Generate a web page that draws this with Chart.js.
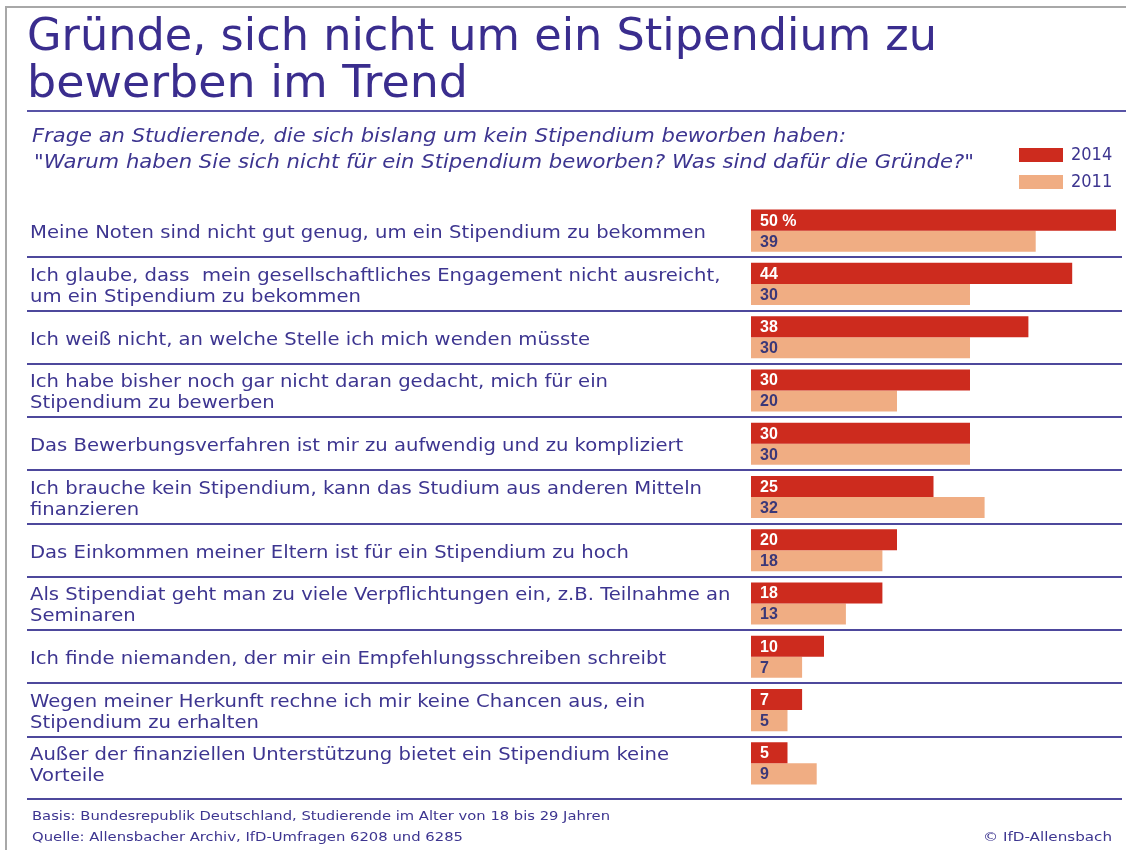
<!DOCTYPE html>
<html><head><meta charset="utf-8">
<script src="https://cdn.jsdelivr.net/npm/chart.js@4.4.1/dist/chart.umd.min.js"></script>
<style>
html,body{margin:0;padding:0;background:#fff;}
#wrap{position:relative;width:1126px;height:850px;overflow:hidden;background:#fff;}
#c{position:absolute;left:0;top:0;}
.t{position:absolute;white-space:nowrap;transform-origin:0 0;color:#3b2f8f;line-height:1;}
.title{font-family:'DejaVu Sans';font-size:44px;color:#3a2d8e;}
.sub{font-family:'DejaVu Sans';font-style:italic;font-size:19px;color:#3d3590;}
.foot{font-family:'DejaVu Sans';font-size:13px;color:#3d3590;}
</style></head><body>
<div id="wrap">
<canvas id="c" width="1126" height="850"></canvas>
<div class="t title fit" data-w="910" style="left:27px;top:13px;">Gründe, sich nicht um ein Stipendium zu</div>
<div class="t title fit" data-w="441" style="left:27px;top:60px;">bewerben im Trend</div>
<div class="t sub fit" data-w="814" style="left:32px;top:126px;">Frage an Studierende, die sich bislang um kein Stipendium beworben haben:</div>
<div class="t sub fit" data-w="940" style="left:34px;top:152px;">"Warum haben Sie sich nicht für ein Stipendium beworben? Was sind dafür die Gründe?"</div>
<div class="t foot fit" data-w="578" style="left:32px;top:809px;">Basis: Bundesrepublik Deutschland, Studierende im Alter von 18 bis 29 Jahren</div>
<div class="t foot fit" data-w="431" style="left:32px;top:830px;">Quelle: Allensbacher Archiv, IfD-Umfragen 6208 und 6285</div>
<div class="t foot fit" data-w="129" style="left:983px;top:830px;">© IfD-Allensbach</div>
</div>
<script>
const categories = [
  "Meine Noten sind nicht gut genug, um ein Stipendium zu bekommen",
  ["Ich glaube, dass  mein gesellschaftliches Engagement nicht ausreicht,", "um ein Stipendium zu bekommen"],
  "Ich weiß nicht, an welche Stelle ich mich wenden müsste",
  ["Ich habe bisher noch gar nicht daran gedacht, mich für ein", "Stipendium zu bewerben"],
  "Das Bewerbungsverfahren ist mir zu aufwendig und zu kompliziert",
  ["Ich brauche kein Stipendium, kann das Studium aus anderen Mitteln", "finanzieren"],
  "Das Einkommen meiner Eltern ist für ein Stipendium zu hoch",
  ["Als Stipendiat geht man zu viele Verpflichtungen ein, z.B. Teilnahme an", "Seminaren"],
  "Ich finde niemanden, der mir ein Empfehlungsschreiben schreibt",
  ["Wegen meiner Herkunft rechne ich mir keine Chancen aus, ein", "Stipendium zu erhalten"],
  ["Außer der finanziellen Unterstützung bietet ein Stipendium keine", "Vorteile"]
];
const series2014 = [50, 44, 38, 30, 30, 25, 20, 18, 10, 7, 5];
const series2011 = [39, 30, 30, 20, 30, 32, 18, 13, 7, 5, 9];
const seriesNames = ["2014", "2011"];

// fit HTML text widths
document.querySelectorAll('.fit').forEach(el => {
  const w = el.getBoundingClientRect().width;
  const target = parseFloat(el.dataset.w);
  el.style.transform = 'scaleX(' + (target / w) + ')';
});

const TEXT = '#3d3590';
const RULE = '#4d489c';

const decor = {
  id: 'decor',
  beforeDraw(chart) {
    const ctx = chart.ctx;
    ctx.save();
    ctx.fillStyle = '#fff';
    ctx.fillRect(0, 0, chart.width, chart.height);
    // frame
    ctx.strokeStyle = '#a8a8a8';
    ctx.lineWidth = 2;
    ctx.beginPath();
    ctx.moveTo(6, 850); ctx.lineTo(6, 7); ctx.lineTo(1126, 7);
    ctx.stroke();
    // title rule
    ctx.strokeStyle = '#5853a6';
    ctx.lineWidth = 2;
    ctx.beginPath(); ctx.moveTo(27, 111); ctx.lineTo(1126, 111); ctx.stroke();
    // row separators
    const ys = chart.scales.y;
    ctx.strokeStyle = RULE;
    for (let i = 0; i < categories.length - 1; i++) {
      const y = Math.round((ys.getPixelForValue(i) + ys.getPixelForValue(i + 1)) / 2);
      ctx.beginPath(); ctx.moveTo(27, y); ctx.lineTo(1122, y); ctx.stroke();
    }
    ctx.beginPath(); ctx.moveTo(27, 799); ctx.lineTo(1122, 799); ctx.stroke();
    // row labels
    ctx.fillStyle = TEXT;
    ctx.font = '17px "DejaVu Sans"';
    ctx.textBaseline = 'middle';
    ctx.textAlign = 'left';
    const w0 = ctx.measureText(categories[0]).width;
    const sx = 676 / w0;
    categories.forEach((lab, i) => {
      const lines = Array.isArray(lab) ? lab : [lab];
      const cy = ys.getPixelForValue(i) + 3;
      lines.forEach((ln, j) => {
        const y = cy + (j - (lines.length - 1) / 2) * 21;
        ctx.save();
        ctx.translate(30, y);
        ctx.scale(sx, 1);
        ctx.fillText(ln, 0, 0);
        ctx.restore();
      });
    });
    // legend
    chart.data.datasets.forEach((ds, k) => {
      const y = 148 + k * 27;
      ctx.fillStyle = ds.backgroundColor;
      ctx.fillRect(1019, y, 44, 14);
      ctx.fillStyle = TEXT;
      ctx.font = '18px "DejaVu Sans"';
      ctx.save();
      ctx.translate(1071, y + 7);
      ctx.scale(0.9, 1);
      ctx.fillText(ds.label, 0, 0);
      ctx.restore();
    });
    ctx.restore();
  },
  afterDatasetsDraw(chart) {
    const ctx = chart.ctx;
    ctx.save();
    ctx.font = 'bold 16px "Liberation Sans"';
    ctx.textBaseline = 'middle';
    ctx.textAlign = 'left';
    chart.data.datasets.forEach((ds, k) => {
      const meta = chart.getDatasetMeta(k);
      meta.data.forEach((bar, i) => {
        let txt = String(ds.data[i]);
        if (k === 0 && i === 0) txt += ' %';
        ctx.fillStyle = k === 0 ? '#ffffff' : '#3a3878';
        ctx.fillText(txt, 760, bar.y + 1);
      });
    });
    ctx.restore();
  }
};

new Chart(document.getElementById('c'), {
  type: 'bar',
  data: {
    labels: categories,
    datasets: [
      { label: seriesNames[0], data: series2014, backgroundColor: '#cd2b1e', barPercentage: 1, categoryPercentage: 0.79 },
      { label: seriesNames[1], data: series2011, backgroundColor: '#f0ad83', barPercentage: 1, categoryPercentage: 0.79 }
    ]
  },
  options: {
    indexAxis: 'y',
    responsive: false,
    animation: false,
    layout: { padding: { left: 751, right: 10, top: 204, bottom: 60 } },
    scales: {
      x: { display: false, min: 0, max: 50 },
      y: { display: false }
    },
    plugins: { legend: { display: false }, tooltip: { enabled: false }, title: { display: false } }
  },
  plugins: [decor]
});
</script>
</body></html>
